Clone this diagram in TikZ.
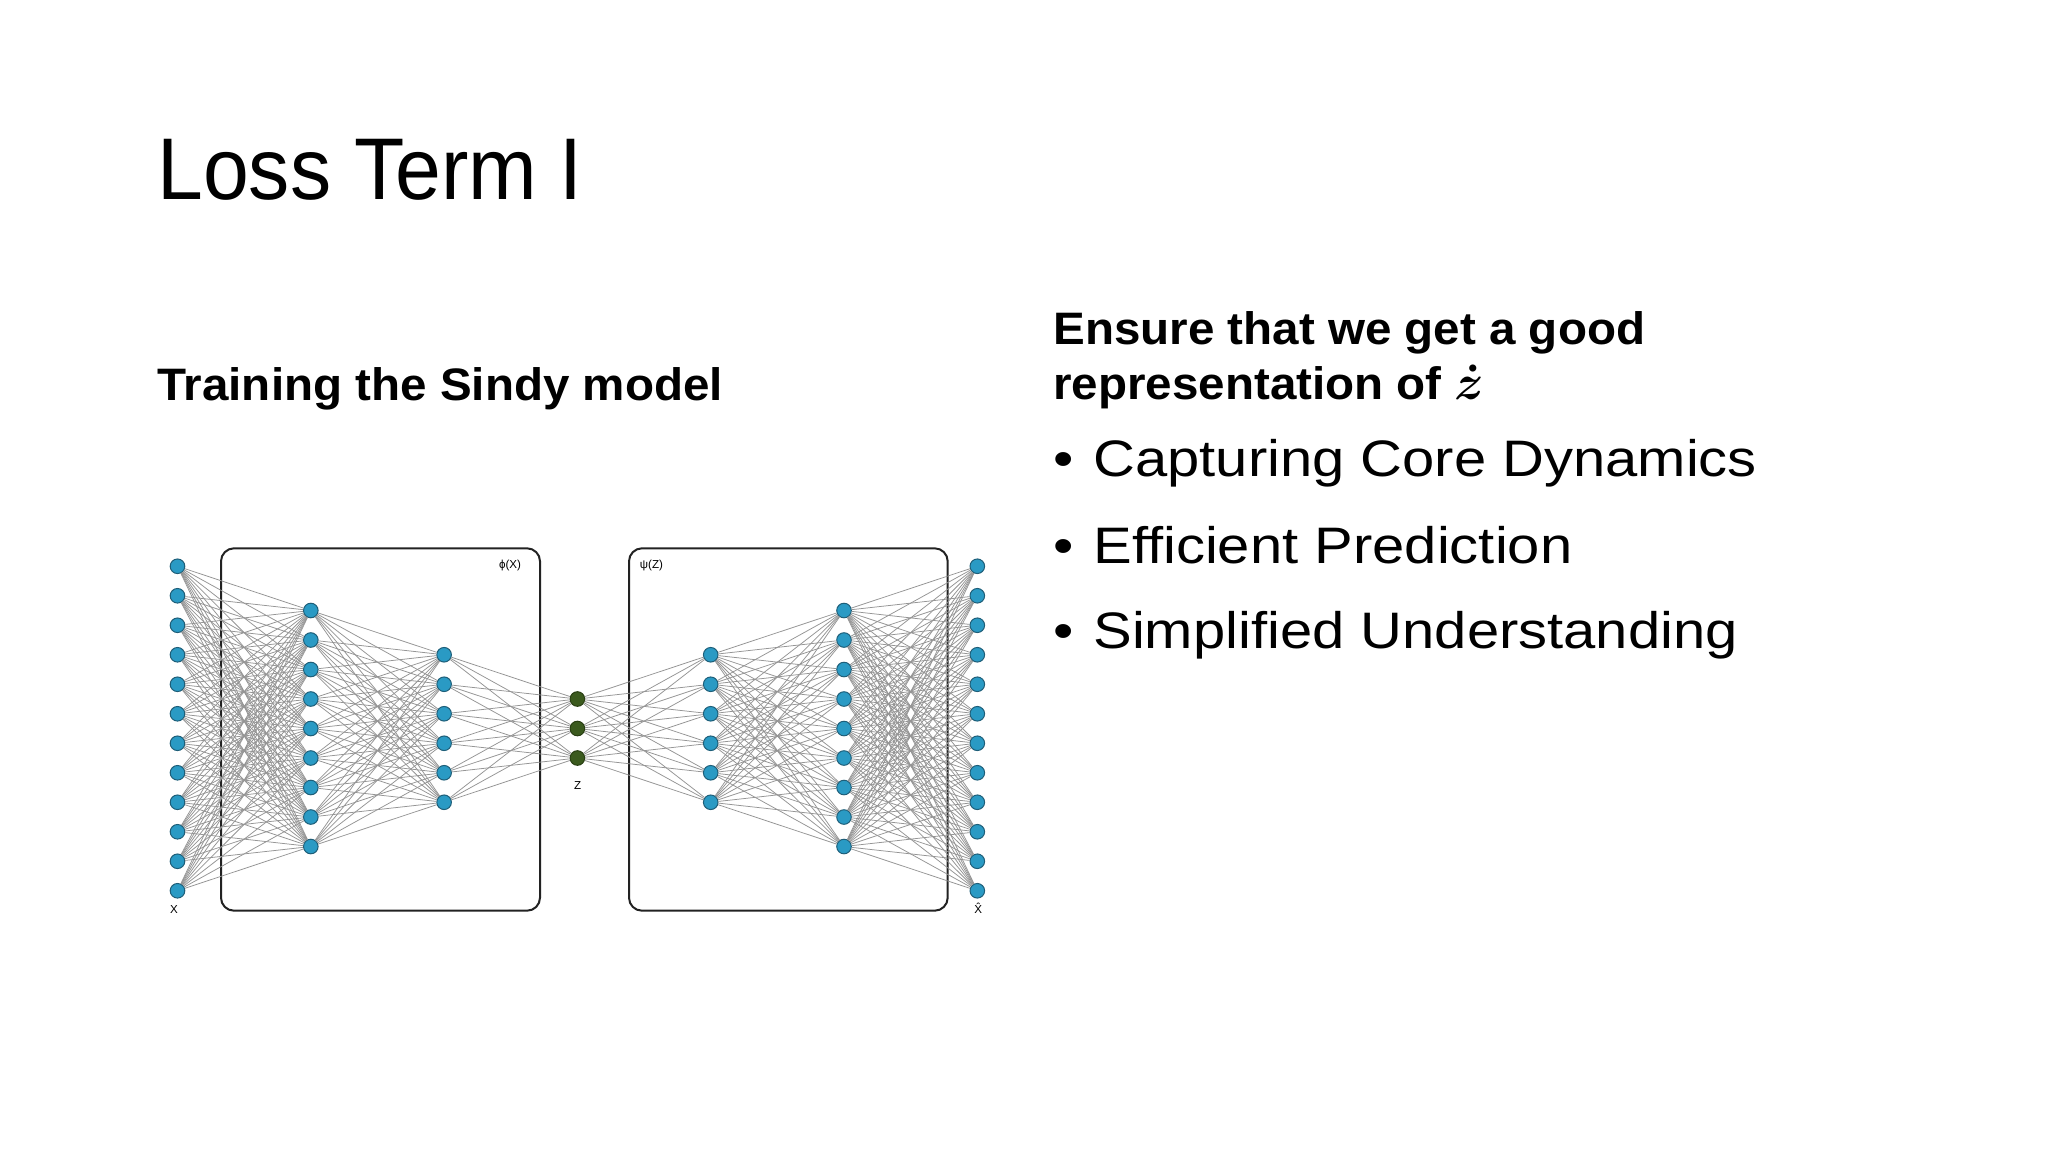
\documentclass[tikz,border=0pt]{standalone}
\usepackage{fontspec}
\setmainfont{Liberation Sans}
\newfontfamily\titlefont[FakeStretch=0.94]{Liberation Sans}
\newfontfamily\headfont[FakeStretch=1.045]{Liberation Sans}
\newfontfamily\itemfont[FakeStretch=1.13]{Liberation Sans}

\definecolor{unitblue}{HTML}{2A9AC4}
\definecolor{unitrim}{HTML}{1E5E78}
\definecolor{latentgreen}{HTML}{3B5A1E}
\definecolor{latentrim}{HTML}{283E12}
\definecolor{linkgray}{HTML}{959595}
\definecolor{boxgray}{HTML}{222222}

\tikzset{
  unit/.style={circle, draw=unitrim, fill=unitblue, line width=0.5pt,
    minimum size=7.3pt, inner sep=0pt},
  latent/.style={unit, draw=latentrim, fill=latentgreen},
  link/.style={draw=linkgray, line width=0.38pt},
  netbox/.style={draw=boxgray, line width=1pt, rounded corners=6.5pt},
  tinylabel/.style={font=\fontsize{5.8}{7}\selectfont, inner sep=0pt},
  slidetext/.style={anchor=base west, inner sep=0pt}
}

\begin{document}
\begin{tikzpicture}[x=0.5pt, y=-0.5pt]

    \fill[white] (0,0) rectangle (2048,1152);
    \useasboundingbox (0,0) rectangle (2048,1152);

    % text of the slide
    \node[slidetext, font=\titlefont\fontsize{43.8}{50}\selectfont] (title) at (157,199.3) {Loss Term I};
    \node[slidetext, font=\headfont\bfseries\fontsize{22.75}{27}\selectfont] (train) at (157,400) {Training the Sindy model};
    \node[slidetext, font=\headfont\bfseries\fontsize{22.75}{27}\selectfont] (goal) at (1053,344.3) {Ensure that we get a good};
    \node[slidetext, font=\headfont\bfseries\fontsize{22.75}{27}\selectfont] (goalb) at (1053,399) {representation of {\fontsize{29}{30}\selectfont\boldmath$\dot{z}$}};

    \node[slidetext, font=\itemfont\fontsize{25.65}{30}\selectfont] (core) at (1053,476.7) {\makebox[20pt][l]{•}Capturing Core Dynamics};
    \node[slidetext, font=\itemfont\fontsize{25.65}{30}\selectfont] (pred) at (1053,563.3) {\makebox[20pt][l]{•}Efficient Prediction};
    \node[slidetext, font=\itemfont\fontsize{25.65}{30}\selectfont] (simp) at (1053,648.3) {\makebox[20pt][l]{•}Simplified Understanding};

    % encoder and decoder boxes
    \draw[netbox] (221,548.3) rectangle (540,910.7);
    \draw[netbox] (629,548.3) rectangle (947.7,910.7);
    \node[tinylabel] (phi) at (510,565) {ϕ(X)};
    \node[tinylabel] (psi) at (651.5,565) {ψ(Z)};

    % layers
    \foreach \i in {1,...,12} {
      \node[unit] (x\i) at (177.5, {728.5+(\i-6.5)*29.5}) {};
      \node[unit] (xh\i) at (977.3, {728.5+(\i-6.5)*29.5}) {};
    }
    \foreach \i in {1,...,9} {
      \node[unit] (ea\i) at (310.8, {728.5+(\i-5)*29.5}) {};
      \node[unit] (db\i) at (844, {728.5+(\i-5)*29.5}) {};
    }
    \foreach \i in {1,...,6} {
      \node[unit] (eb\i) at (444.1, {728.5+(\i-3.5)*29.5}) {};
      \node[unit] (da\i) at (710.7, {728.5+(\i-3.5)*29.5}) {};
    }
    \foreach \i in {1,2,3}
      \node[latent] (z\i) at (577.4, {728.5+(\i-2)*29.5}) {};

    % connections
    \foreach \i in {1,...,12}
      \foreach \j in {1,...,9} {
        \draw[link] (x\i) -- (ea\j);
        \draw[link] (db\j) -- (xh\i);
      }
    \foreach \i in {1,...,9}
      \foreach \j in {1,...,6} {
        \draw[link] (ea\i) -- (eb\j);
        \draw[link] (da\j) -- (db\i);
      }
    \foreach \i in {1,...,6}
      \foreach \j in {1,2,3} {
        \draw[link] (eb\i) -- (z\j);
        \draw[link] (z\j) -- (da\i);
      }

    \node[tinylabel] (xlab) at (174,909) {X};
    \node[tinylabel] (zlab) at (577.7,785.5) {Z};
    \node[tinylabel, anchor=base] (xhlab) at (978.3,913) {\^{X}};
  \end{tikzpicture}
\end{document}
